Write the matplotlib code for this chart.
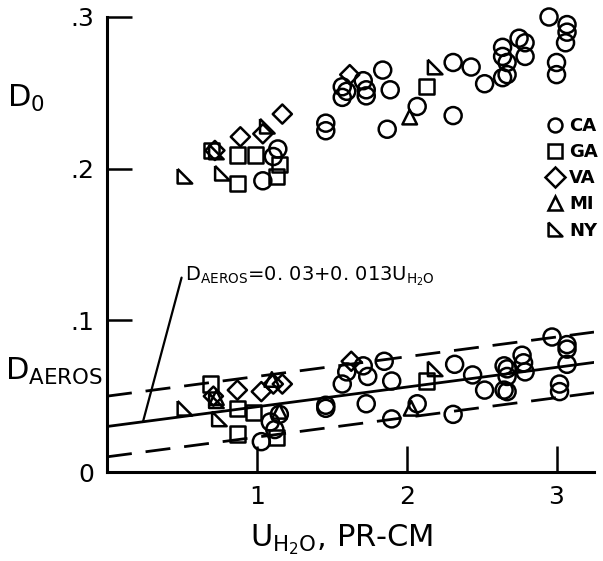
import numpy as np
import matplotlib

matplotlib.use("Agg")
import matplotlib.pyplot as plt
from matplotlib.lines import Line2D

plt.rcParams.update({
    "font.family": "DejaVu Sans",
    "mathtext.default": "regular",
})

# ---- data: precipitable water U (pr-cm) vs D ----
# upper cluster: D_0
ca_u0 = [1.04, 1.14, 1.11, 1.46, 1.46, 1.57, 1.57, 1.60, 1.71, 1.73, 1.73, 1.84, 1.89, 1.87, 2.07, 2.31,
         2.43, 2.52, 2.31, 2.64, 2.64, 2.67, 2.64, 2.67, 2.75, 2.79, 2.79, 2.95, 3.07, 3.07, 3.06, 3.00, 3.00]
ca_d0 = [0.192, 0.213, 0.208, 0.230, 0.225, 0.254, 0.247, 0.251, 0.258, 0.252, 0.248, 0.265, 0.252, 0.226,
         0.241, 0.270, 0.267, 0.256, 0.235, 0.280, 0.274, 0.270, 0.260, 0.262, 0.286, 0.283, 0.274, 0.300,
         0.295, 0.290, 0.283, 0.270, 0.262]
ga_u0 = [0.70, 0.87, 0.99, 0.87, 1.15, 1.13, 2.13]
ga_d0 = [0.212, 0.209, 0.209, 0.190, 0.203, 0.195, 0.254]
va_u0 = [0.72, 0.89, 1.04, 1.17, 1.62]
va_d0 = [0.212, 0.221, 0.223, 0.236, 0.262]
mi_u0 = [2.02]
mi_d0 = [0.234]
ny_u0 = [0.52, 0.77, 0.73, 1.07, 2.19]
ny_d0 = [0.195, 0.197, 0.211, 0.228, 0.267]

# lower cluster: D_AEROS
ca_ua = [1.03, 1.09, 1.12, 1.15, 1.46, 1.46, 1.57, 1.60, 1.71, 1.74, 1.73, 1.85, 1.90, 1.90, 2.07, 2.32,
         2.44, 2.52, 2.31, 2.65, 2.67, 2.67, 2.65, 2.67, 2.77, 2.78, 2.79, 2.97, 3.07, 3.07, 3.07, 3.02, 3.02]
ca_da = [0.020, 0.033, 0.028, 0.038, 0.044, 0.042, 0.058, 0.066, 0.070, 0.063, 0.045, 0.073, 0.060, 0.035,
         0.045, 0.071, 0.064, 0.054, 0.038, 0.070, 0.068, 0.063, 0.054, 0.053, 0.077, 0.072, 0.066, 0.089,
         0.084, 0.081, 0.071, 0.058, 0.053]
ga_ua = [0.69, 0.87, 0.87, 0.98, 1.13, 2.13]
ga_da = [0.058, 0.042, 0.025, 0.039, 0.023, 0.060]
va_ua = [0.71, 0.87, 1.03, 1.11, 1.17, 1.63]
va_da = [0.050, 0.054, 0.053, 0.058, 0.058, 0.073]
mi_ua = [0.73, 1.10, 1.15, 2.03]
mi_da = [0.049, 0.061, 0.040, 0.042]
ny_ua = [0.52, 0.75, 0.73, 2.19]
ny_da = [0.042, 0.035, 0.047, 0.068]

# fit D_AEROS = 0.03 + 0.013 U, with +/- 0.02 band
fit_a, fit_b, band = 0.03, 0.013, 0.02
x_max = 3.25

states = ["CA", "GA", "VA", "MI", "NY"]
ny_marker = [(-0.5, 0.5), (-0.5, -0.5), (0.5, -0.5), (-0.5, 0.5)]
markers = {"CA": "o", "GA": "s", "VA": "D", "MI": "^", "NY": ny_marker}
sizes = {"CA": 150, "GA": 120, "VA": 95, "MI": 110, "NY": 110}
series = {
    "CA": (ca_u0 + ca_ua, ca_d0 + ca_da),
    "GA": (ga_u0 + ga_ua, ga_d0 + ga_da),
    "VA": (va_u0 + va_ua, va_d0 + va_da),
    "MI": (mi_u0 + mi_ua, mi_d0 + mi_da),
    "NY": (ny_u0 + ny_ua, ny_d0 + ny_da),
}

W, H = 603, 561
fig = plt.figure(figsize=(W / 100, H / 100), dpi=100)
ax = fig.add_axes([107 / W, 1 - 472 / H, 487 / W, 455 / H])

for st in states:
    u, d = series[st]
    ax.scatter(u, d, s=sizes[st], marker=markers[st], facecolors="none",
               edgecolors="black", linewidths=1.8, zorder=3, clip_on=False)

xs = np.array([0.0, x_max])
ax.plot(xs, fit_a + fit_b * xs, color="black", lw=2)
ax.plot(xs, fit_a + band + fit_b * xs, color="black", lw=2, dashes=(9, 5))
ax.plot(xs, fit_a - band + fit_b * xs, color="black", lw=2, dashes=(9, 5))

ax.set_xlim(0, x_max)
ax.set_ylim(0, 0.3)
for side in ["top", "right"]:
    ax.spines[side].set_visible(False)
for side in ["left", "bottom"]:
    ax.spines[side].set_linewidth(2.2)

ax.set_xticks([1, 2, 3])
ax.set_xticklabels(["1", "2", "3"])
ax.set_yticks([0, 0.1, 0.2, 0.3])
ax.set_yticklabels(["0", ".1", ".2", ".3"])
ax.tick_params(direction="in", length=19, width=1.8, labelsize=18, pad=9)
ax.tick_params(axis="y", length=18)
ax.yaxis.get_major_ticks()[0].tick1line.set_visible(False)

# legend
handles = [Line2D([], [], ls="none", marker=markers[s], markersize=10, markerfacecolor="none",
                  markeredgecolor="black", markeredgewidth=1.8) for s in states]
ax.legend(handles, states, loc="upper left", bbox_to_anchor=(0.905, 0.78), frameon=False,
          handlelength=0.8, handletextpad=0.4, labelspacing=0.45, borderpad=0, borderaxespad=0,
          prop={"weight": "bold", "size": 13})

# equation with leader line
lead_x = 0.24
ax.annotate(r"D$_{AEROS}$=0. 03+0. 013U$_{H_2O}$", xy=(lead_x, fit_a + fit_b * lead_x),
            xytext=(0.52, 0.129), fontsize=14, ha="left", va="center",
            arrowprops=dict(arrowstyle="-", lw=1.6, color="black", relpos=(0, 0.5),
                            shrinkA=1, shrinkB=0,
                            connectionstyle="angle,angleA=0,angleB=75,rad=0"))

fig.text(7 / W, 1 - 107 / H, r"D$_0$", fontsize=22, ha="left", va="baseline")
fig.text(5 / W, 1 - 380 / H, r"D$_{AEROS}$", fontsize=22, ha="left", va="baseline")
fig.text(342 / W, 1 - 546 / H, r"U$_{H_2O}$, PR-CM", fontsize=22, ha="center", va="baseline")

fig.savefig("out.png", dpi=100)
